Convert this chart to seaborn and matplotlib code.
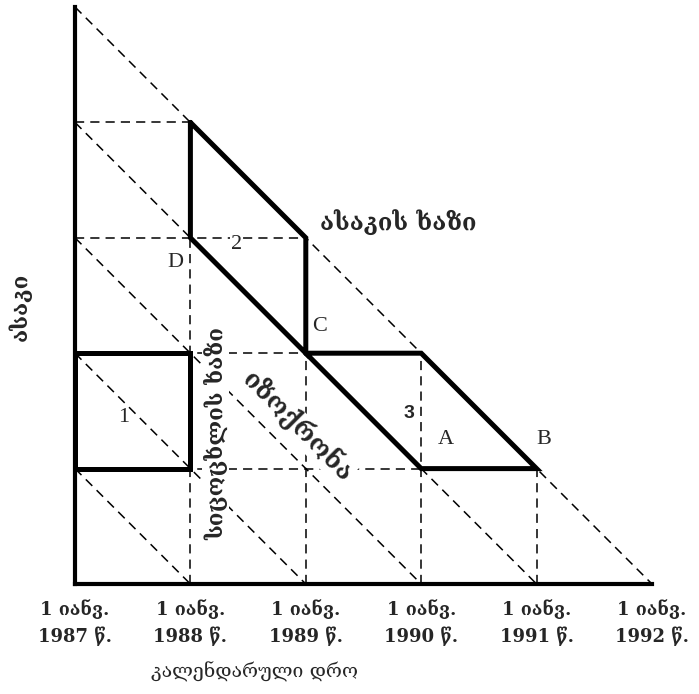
import numpy as np
import pandas as pd
import seaborn as sns
import matplotlib.pyplot as plt

# Lexis diagram data
years = [1987, 1988, 1989, 1990, 1991, 1992]
ages = [0, 1, 2, 3, 4, 5]
tick_labels = ["1 იანვ.\n1987 წ.", "1 იანვ.\n1988 წ.", "1 იანვ.\n1989 წ.",
               "1 იანვ.\n1990 წ.", "1 იანვ.\n1991 წ.", "1 იანვ.\n1992 წ."]

# highlighted areas (year, age corners)
area_1_years = [1987, 1988, 1988, 1987, 1987]
area_1_ages = [1, 1, 2, 2, 1]
area_2_years = [1988, 1989, 1989, 1988, 1988]
area_2_ages = [4, 3, 2, 3, 4]
area_3_years = [1989, 1990, 1991, 1990, 1989]
area_3_ages = [2, 2, 1, 1, 2]

sns.set_theme(style="white")
serif = ['DejaVu Serif', 'DejaVu Sans']
plt.rcParams['font.family'] = serif

# dashed grid: life lines (diagonals), horizontal and vertical lines
rows = []
seg = 0
y0 = years[0]
top = ages[-1]
for c in ages[1:]:
    rows += [(seg, y0, c), (seg, y0 + c, 0)]
    seg += 1
for a in ages[:-1]:
    rows += [(seg, y0, a), (seg, y0 + top - a, a)]
    seg += 1
for i, yr in enumerate(years[:-1]):
    rows += [(seg, yr, 0), (seg, yr, top - i)]
    seg += 1
grid = pd.DataFrame(rows, columns=['seg', 'year', 'age'])

thick = pd.concat([
    pd.DataFrame({'seg': k, 'year': yy, 'age': aa})
    for k, (yy, aa) in enumerate([(area_1_years, area_1_ages),
                                  (area_2_years, area_2_ages),
                                  (area_3_years, area_3_ages)])
])

fig = plt.figure(figsize=(6.99, 6.94), dpi=100)
ax = fig.add_axes([75 / 699, 110 / 694, 577 / 699, 577 / 694])

sns.lineplot(data=grid, x='year', y='age', units='seg', estimator=None, sort=False,
             color='black', lw=1.1, dashes=False, ax=ax, legend=False)
for ln in ax.lines:
    ln.set_linestyle((0, (6, 4)))
    ln.set_clip_on(False)
sns.lineplot(data=thick, x='year', y='age', units='seg', estimator=None, sort=False,
             color='black', lw=3.6, ax=ax, legend=False)
for ln in ax.lines:
    ln.set_clip_on(False)
    ln.set_solid_joinstyle('miter')

ax.set_xlim(years[0], years[-1])
ax.set_ylim(ages[0], ages[-1])
ax.set_xticks(years)
ax.set_xticklabels(tick_labels, fontsize=13, fontweight='bold', family=serif,
                   linespacing=1.45)
ax.set_yticks([])
ax.tick_params(axis='x', length=0, pad=11)
for s in ['top', 'right']:
    ax.spines[s].set_visible(False)
for s in ['left', 'bottom']:
    ax.spines[s].set_linewidth(3)
    ax.spines[s].set_color('black')
    ax.spines[s].set_zorder(5)

ax.set_xlabel('კალენდარული დრო', fontsize=14, family=serif)
ax.xaxis.set_label_coords(0.312, -0.135)
ax.set_ylabel('ასაკი', fontsize=16, fontweight='bold', family=serif)
ax.yaxis.set_label_coords(-0.075, 0.48)

tnr = 'Liberation Serif'
ax.text(1987.87, 2.79, 'D', fontsize=16, family=tnr, ha='center', va='center')
ax.text(1988.40, 2.94, '2', fontsize=16, family=tnr, ha='center', va='center',
        bbox=dict(fc='white', ec='none', pad=1))
ax.text(1989.12, 2.23, 'C', fontsize=16, family=tnr, ha='center', va='center')
ax.text(1987.42, 1.44, '1', fontsize=16, family=tnr, ha='center', va='center')
ax.text(1989.89, 1.48, '3', fontsize=14, family='Liberation Sans', fontweight='bold',
        ha='center', va='center')
ax.text(1990.21, 1.25, 'A', fontsize=16, family=tnr, ha='center', va='center')
ax.text(1991.06, 1.25, 'B', fontsize=16, family=tnr, ha='center', va='center')

ax.text(1989.12, 3.14, 'ასაკის ხაზი', fontsize=17, fontweight='bold', family=serif,
        ha='left', va='center')
ax.text(1988.22, 1.30, 'სიცოცხლის ხაზი', fontsize=16, fontweight='bold', family=serif,
        rotation=90, ha='center', va='center', zorder=4,
        bbox=dict(fc='white', ec='none', pad=1))
ax.text(1988.93, 1.37, 'იზოქრონა', fontsize=18, fontweight='bold', family=serif,
        rotation=-45, ha='center', va='center', zorder=4, rotation_mode='anchor',
        bbox=dict(fc='white', ec='none', pad=0.5))

fig.savefig('out.png', dpi=100)
